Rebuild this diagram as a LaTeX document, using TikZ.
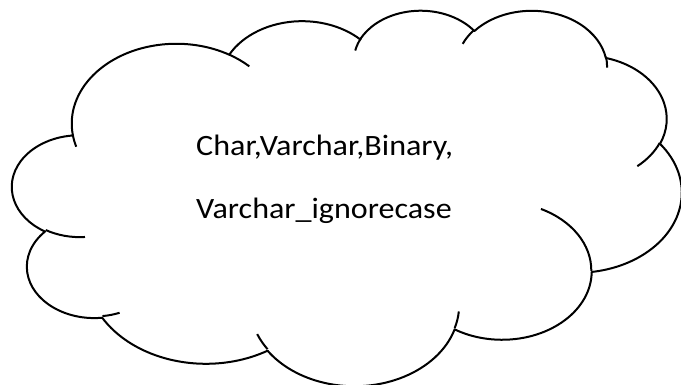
\documentclass[tikz,border=0pt]{standalone}
\usepackage{fontspec}
\setmainfont{Carlito}

% one bulge of the cloud: x radius, y radius, start angle, sweep
% (angles are taken as seen on the ellipse and turned into parameter angles)
\newcommand{\bulge}[4]{%
  \pgfextra{%
    \pgfmathsetmacro\bulgest{atan2(#1*sin(#3),#2*cos(#3))}%
    \pgfmathsetmacro\bulgeen{atan2(#1*sin(#3+#4),#2*cos(#3+#4))}%
    \pgfmathsetmacro\bulgesw{mod(\bulgeen-\bulgest+720,360)}%
  }%
  arc[x radius=#1, y radius=#2, start angle=\bulgest, delta angle=\bulgesw]}

\tikzset{
  cloudline/.style={draw=black, line width=2pt, line join=round},
  cloudtext/.style={anchor=base west, inner sep=0pt, xscale=1.087, transform shape,
                    font=\fontsize{29.5}{35}\selectfont}
}

\begin{document}
\begin{tikzpicture}[x=1pt, y=-1pt]
	\useasboundingbox (0, 0) rectangle (681, 385);

	\begin{scope}[shift={(12.3, 9.5)}, xscale=1.549, yscale=0.869]
		% outline, eleven bulges round the edge
		\draw[cloudline, fill=white]	(39.00, 143.70)
			\bulge{67.53}{91.90}{-190.49}{123.78}
			\bulge{53.33}{72.67}{-144.10}{89.95}
			\bulge{43.65}{59.45}{-145.81}{99.72}
			\bulge{48.57}{65.95}{-130.99}{117.24}
			\bulge{53.33}{72.73}{-78.71}{109.03}
			\bulge{67.75}{92.20}{-46.27}{130.27}
			\bulge{57.85}{78.67}{0.63}{114.03}
			\bulge{67.52}{92.15}{22.45}{115.17}
			\bulge{77.20}{105.43}{66.24}{75.71}
			\bulge{43.60}{59.18}{-274.94}{146.74}
			\bulge{43.45}{59.45}{-246.83}{152.52}
			-- cycle;

		% short inner strokes where the bulges meet
		\draw[cloudline]	(46.93, 261.77) \bulge{43.45}{59.45}{86.74}{26.43}
							(69.28, 348.99) \bulge{43.60}{59.18}{73.61}{11.45}
							(164.78, 390.90) \bulge{67.52}{92.15}{137.62}{14.08}
							(288.27, 347.51) \bulge{67.52}{92.15}{6.45}{16.00}
							(341.29, 229.54) \bulge{57.85}{78.67}{-70.29}{70.92}
							(417.98, 153.54) \bulge{53.33}{72.73}{30.32}{27.75}
							(383.24, 54.26) \bulge{48.57}{65.95}{-13.74}{14.86}
							(290.78, 39.52) \bulge{48.57}{65.95}{-149.18}{18.20}
							(221.41, 47.20) \bulge{43.65}{59.45}{-163.49}{17.69}
							(140.00, 51.92) \bulge{67.53}{91.90}{-66.71}{12.32}
							(41.27, 157.89) \bulge{67.53}{91.90}{157.65}{11.86};
	\end{scope}

	\node[cloudtext] (types) at (196, 156) {Char,Varchar,Binary,};
	\node[cloudtext] (ignorecase) at (196, 219) {Varchar\_ignorecase};
\end{tikzpicture}
\end{document}
